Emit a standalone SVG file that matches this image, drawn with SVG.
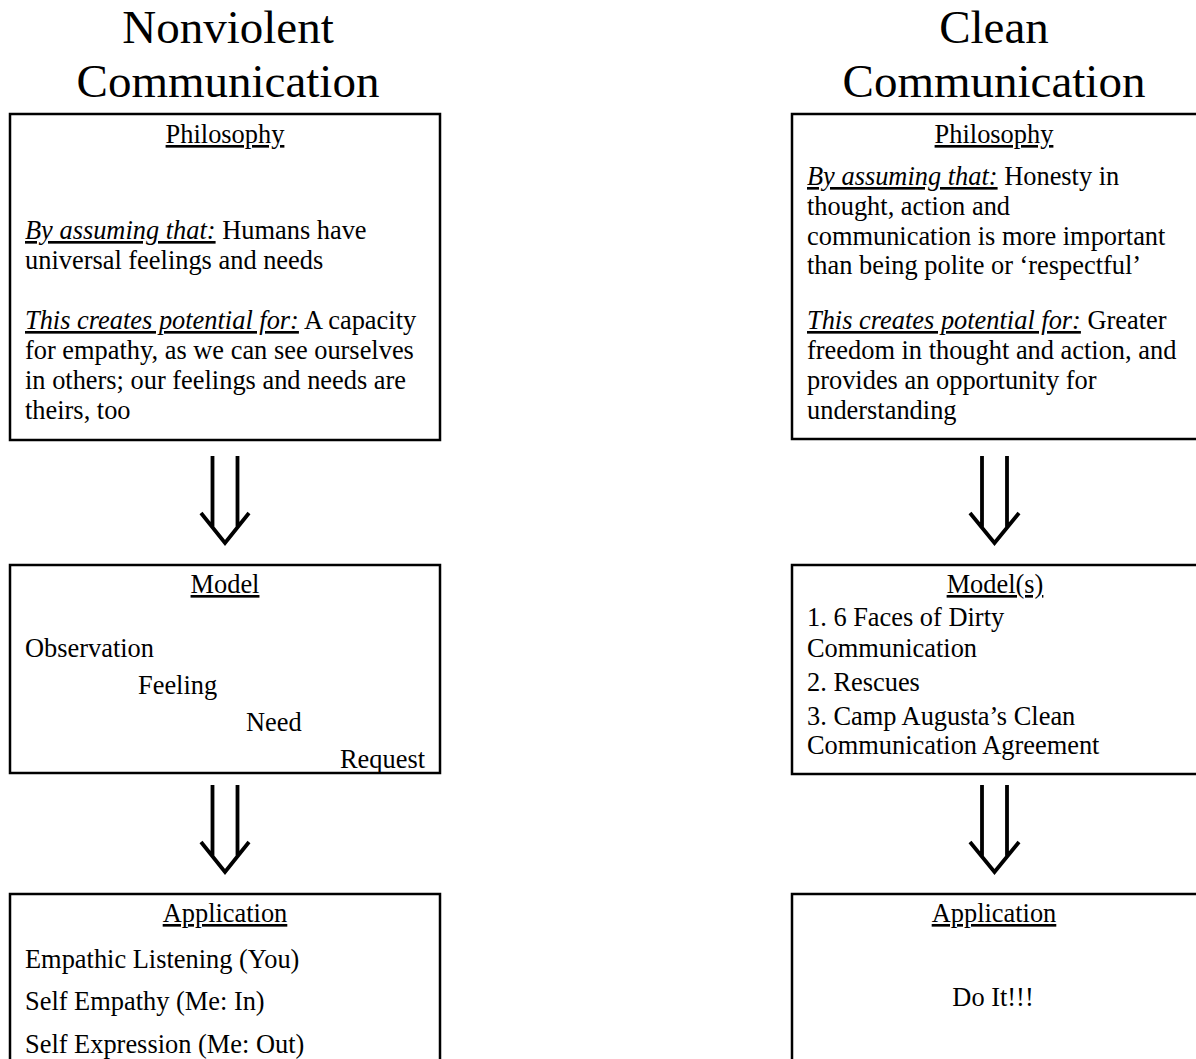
<svg xmlns="http://www.w3.org/2000/svg" width="1196" height="1059" viewBox="0 0 1196 1059">
<style>
text{font-family:"Liberation Serif","Times New Roman",serif;fill:#000}
.t{font-size:47px;text-anchor:middle}
.b{font-size:26.4px}
.h{font-size:26.4px;text-anchor:middle;text-decoration:underline}
.c{text-anchor:middle}
.u{text-decoration:underline;font-style:italic}
.box{fill:#fff;stroke:#000;stroke-width:2.5}
.arr{fill:none;stroke:#000;stroke-width:3.8;stroke-linejoin:miter}
</style>
<rect width="1196" height="1059" fill="#fff"/>
<g id="title-left"><text class="t" x="228" y="43">Nonviolent</text><text class="t" x="228" y="97">Communication</text></g>
<g id="title-right"><text class="t" x="994" y="43">Clean</text><text class="t" x="994" y="97">Communication</text></g>

<g id="nvc-philosophy">
<rect class="box" x="10" y="114" width="430" height="326"/>
<text class="h" x="225" y="143">Philosophy</text>
<text class="b" x="25" y="239"><tspan class="u">By assuming that:</tspan> Humans have</text>
<text class="b" x="25" y="269">universal feelings and needs</text>
<text class="b" x="25" y="329">
<tspan class="u">This creates potential for:</tspan> A capacity</text>
<text class="b" x="25" y="359">for empathy, as we can see ourselves</text>
<text class="b" x="25" y="389">in others; our feelings and needs are</text>
<text class="b" x="25" y="419">theirs, too</text>
</g>

<g id="nvc-model">
<rect class="box" x="10" y="565" width="430" height="208"/>
<text class="h" x="225" y="593">Model</text>
<text class="b" x="25" y="657">Observation</text>
<text class="b" x="138" y="694">Feeling</text>
<text class="b" x="246" y="731">Need</text>
<text class="b" x="340" y="768">Request</text>
</g>

<g id="nvc-application">
<rect class="box" x="10" y="894" width="430" height="200"/>
<text class="h" x="225" y="922">Application</text>
<text class="b" x="25" y="968">Empathic Listening (You)</text>
<text class="b" x="25" y="1010">Self Empathy (Me: In)</text>
<text class="b" x="25" y="1053">Self Expression (Me: Out)</text>
</g>

<g id="cc-philosophy">
<rect class="box" x="792" y="114" width="430" height="325"/>
<text class="h" x="994" y="143">Philosophy</text>
<text class="b" x="807" y="185"><tspan class="u">By assuming that:</tspan> Honesty in</text>
<text class="b" x="807" y="215">thought, action and</text>
<text class="b" x="807" y="245">communication is more important</text>
<text class="b" x="807" y="274">than being polite or ‘respectful’</text>
<text class="b" x="807" y="329"><tspan class="u">This creates potential for:</tspan> Greater</text>
<text class="b" x="807" y="359">freedom in thought and action, and</text>
<text class="b" x="807" y="389">provides an opportunity for</text>
<text class="b" x="807" y="419">understanding</text>
</g>

<g id="cc-model">
<rect class="box" x="792" y="565" width="430" height="209"/>
<text class="h" x="995" y="593">Model(s)</text>
<text class="b" x="807" y="626">1. 6 Faces of Dirty</text>
<text class="b" x="807" y="657">Communication</text>
<text class="b" x="807" y="691">2. Rescues</text>
<text class="b" x="807" y="725">3. Camp Augusta’s Clean</text>
<text class="b" x="807" y="754">Communication Agreement</text>
</g>

<g id="cc-application">
<rect class="box" x="792" y="894" width="430" height="200"/>
<text class="h" x="994" y="922">Application</text>
<text class="b c" x="993" y="1006">Do It!!!</text>
</g>

<g id="connectors">
<path class="arr" d="M212.5 456V528M237.5 456V528M201 513L225 543L249 513"/>
<path class="arr" d="M212.5 785V857M237.5 785V857M201 842L225 872L249 842"/>
<path class="arr" d="M982 456V528M1007 456V528M970 513L994.5 543L1019 513"/>
<path class="arr" d="M982 785V857M1007 785V857M970 842L994.5 872L1019 842"/>
</g>
</svg>
